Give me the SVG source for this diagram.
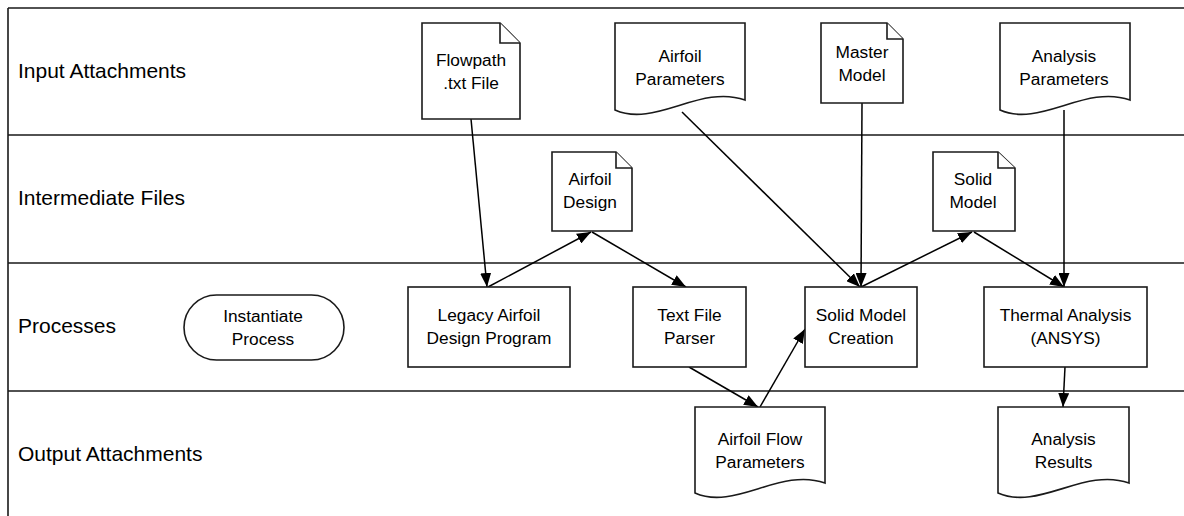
<svg xmlns="http://www.w3.org/2000/svg" width="1184" height="516" viewBox="0 0 1184 516">
<style>
.lane{stroke:#1a1a1a;stroke-width:1.6;fill:none}
.lbl{font-family:"Liberation Sans",Arial,sans-serif;font-size:21px;fill:#000}
.shape{fill:#fff;stroke:#1a1a1a;stroke-width:1.6}
.t{font-family:"Liberation Sans",Arial,sans-serif;font-size:17.3px;fill:#000;text-anchor:middle}
.c{stroke:#000;stroke-width:1.5;fill:none;marker-end:url(#ah)}
</style>
<defs>
<marker id="ah" markerUnits="userSpaceOnUse" markerWidth="14" markerHeight="11" refX="14" refY="5.5" orient="auto">
<path d="M0,0 L14,5.5 L0,11 z" fill="#000"/>
</marker>
</defs>
<rect width="1184" height="516" fill="#fff"/>
<g id="lanes">
<path class="lane" d="M8,8 H1184 M8,8 V516 M8,135 H1184 M8,263 H1184 M8,391 H1184"/>
<text class="lbl" x="18" y="78">Input Attachments</text>
<text class="lbl" x="18" y="205">Intermediate Files</text>
<text class="lbl" x="18" y="333">Processes</text>
<text class="lbl" x="18" y="461">Output Attachments</text>
</g>
<g id="connectors">
<line class="c" x1="471" y1="119" x2="487" y2="287"/>
<line class="c" x1="488" y1="287" x2="591" y2="232"/>
<line class="c" x1="592" y1="232" x2="686" y2="287"/>
<line class="c" x1="682" y1="112" x2="860" y2="287"/>
<line class="c" x1="862" y1="103" x2="861" y2="287"/>
<line class="c" x1="861" y1="287" x2="972" y2="232"/>
<line class="c" x1="974" y1="232" x2="1064" y2="287"/>
<line class="c" x1="1064" y1="110" x2="1064" y2="287"/>
<line class="c" x1="689" y1="367" x2="758" y2="407"/>
<line class="c" x1="760" y1="407" x2="805" y2="329"/>
<line class="c" x1="1065" y1="367" x2="1063" y2="407"/>
</g>
<g id="instantiate">
<rect class="shape" x="184" y="295" width="160" height="65" rx="32.5" ry="32.5"/>
<text class="t" x="263" y="322">Instantiate</text>
<text class="t" x="263" y="345">Process</text>
</g>
<g id="flowpath">
<path class="shape" d="M422,23 H500 L520,43 V119 H422 Z"/>
<path class="shape" d="M500,23 V43 H520" fill="none"/>
<text class="t" x="471" y="66">Flowpath</text>
<text class="t" x="471" y="89">.txt File</text>
</g>
<g id="airfoil-params">
<path class="shape" d="M615,23 H745 V100 C700,84 655,128 615,110 Z"/>
<text class="t" x="680" y="62">Airfoil</text>
<text class="t" x="680" y="85">Parameters</text>
</g>
<g id="master-model">
<path class="shape" d="M821,23 H887 L903,39 V103 H821 Z"/>
<path class="shape" d="M887,23 V39 H903" fill="none"/>
<text class="t" x="862" y="58">Master</text>
<text class="t" x="862" y="81">Model</text>
</g>
<g id="analysis-params">
<path class="shape" d="M1000,23 H1130 V100 C1085,84 1040,128 1000,110 Z"/>
<text class="t" x="1064" y="62">Analysis</text>
<text class="t" x="1064" y="85">Parameters</text>
</g>
<g id="airfoil-design">
<path class="shape" d="M552,152 H616 L632,168 V231 H552 Z"/>
<path class="shape" d="M616,152 V168 H632" fill="none"/>
<text class="t" x="590" y="185">Airfoil</text>
<text class="t" x="590" y="208">Design</text>
</g>
<g id="solid-model">
<path class="shape" d="M933,152 H998 L1015,168 V231 H933 Z"/>
<path class="shape" d="M998,152 V168 H1015" fill="none"/>
<text class="t" x="973" y="185">Solid</text>
<text class="t" x="973" y="208">Model</text>
</g>
<g id="legacy">
<rect class="shape" x="408" y="287" width="162" height="80"/>
<text class="t" x="489" y="321">Legacy Airfoil</text>
<text class="t" x="489" y="344">Design Program</text>
</g>
<g id="parser">
<rect class="shape" x="633" y="287" width="113" height="80"/>
<text class="t" x="689.5" y="321">Text File</text>
<text class="t" x="689.5" y="344">Parser</text>
</g>
<g id="solid-creation">
<rect class="shape" x="805" y="287" width="112" height="80"/>
<text class="t" x="861" y="321">Solid Model</text>
<text class="t" x="861" y="344">Creation</text>
</g>
<g id="thermal">
<rect class="shape" x="984" y="287" width="163" height="80"/>
<text class="t" x="1065.5" y="321">Thermal Analysis</text>
<text class="t" x="1065.5" y="344">(ANSYS)</text>
</g>
<g id="airfoil-flow">
<path class="shape" d="M695,407 H825 V483 C780,467 735,511 695,493 Z"/>
<text class="t" x="760" y="445">Airfoil Flow</text>
<text class="t" x="760" y="468">Parameters</text>
</g>
<g id="analysis-results">
<path class="shape" d="M998,407 H1129 V483 C1084,467 1039,511 998,493 Z"/>
<text class="t" x="1063.5" y="445">Analysis</text>
<text class="t" x="1063.5" y="468">Results</text>
</g>
</svg>
